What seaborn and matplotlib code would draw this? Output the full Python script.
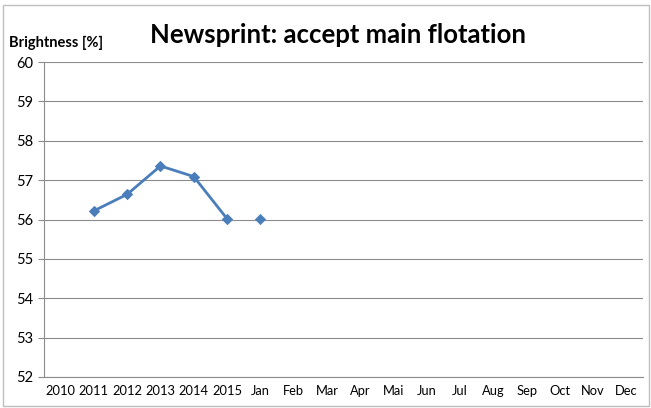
import numpy as np
import pandas as pd
import matplotlib
matplotlib.use("Agg")
import matplotlib.pyplot as plt
import seaborn as sns
from matplotlib.patches import Rectangle

# Data
categories = ["2010", "2011", "2012", "2013", "2014", "2015", "Jan", "Feb", "Mar", "Apr",
              "Mai", "Jun", "Jul", "Aug", "Sep", "Oct", "Nov", "Dec"]
year_labels = ["2011", "2012", "2013", "2014", "2015"]
year_values = [56.22, 56.64, 57.36, 57.09, 56.02]
month_labels = ["Jan"]
month_values = [56.02]

sns.set_style("white")
plt.rcParams["font.family"] = ["Lato", "DejaVu Sans"]
plt.rcParams["text.color"] = "black"
plt.rcParams["xtick.color"] = "black"
plt.rcParams["ytick.color"] = "black"

pos = {c: i for i, c in enumerate(categories)}
years_df = pd.DataFrame({"x": [pos[c] for c in year_labels], "y": year_values})
months_df = pd.DataFrame({"x": [pos[c] for c in month_labels], "y": month_values})

fig = plt.figure(figsize=(6.51, 4.08), dpi=100)
ax = fig.add_axes([44 / 651, 1 - 377 / 408, 599 / 651, 315 / 408])

line_color = "#4A7EBB"
sns.lineplot(data=years_df, x="x", y="y", ax=ax, color=line_color, linewidth=2,
             marker="D", markersize=5, markeredgecolor=line_color)
sns.scatterplot(data=months_df, x="x", y="y", ax=ax, color=line_color, marker="D",
                s=28, edgecolor=line_color)

ax.set_xlim(-0.5, len(categories) - 0.5)
ax.set_ylim(52, 60)
ax.set_yticks(range(52, 61))
ax.yaxis.grid(True, color="#8c8c8c", linewidth=0.8)
ax.set_axisbelow(True)
ax.set_xticks(range(len(categories)))
ax.set_xticklabels(categories, fontsize=9.3)
ax.set_xticks(np.arange(-0.5, len(categories), 1), minor=True)
ax.tick_params(axis="x", which="major", length=0, pad=6, colors="black")
ax.tick_params(axis="x", which="minor", length=4, color="#8c8c8c", width=0.8)
ax.tick_params(axis="y", length=4, color="#8c8c8c", width=0.8, labelsize=10.5, pad=4,
               left=True, labelcolor="black")
ax.set_xlabel("")
ax.set_ylabel("")
for s in ["top", "right"]:
    ax.spines[s].set_visible(False)
for s in ["left", "bottom"]:
    ax.spines[s].set_color("#8c8c8c")
    ax.spines[s].set_linewidth(0.8)

fig.text(338 / 651, 1 - 35 / 408, "Newsprint: accept main flotation", ha="center", va="center",
         fontsize=18.5, fontweight="bold")
fig.text(9 / 651, 1 - 43 / 408, "Brightness [%]", ha="left", va="center",
         fontsize=10.5, fontweight="bold")

# outer chart frame
fig.patches.append(Rectangle((3 / 651, 2 / 408), 646 / 651, 401 / 408, transform=fig.transFigure,
                             fill=False, edgecolor="#bfbfbf", linewidth=1))

fig.savefig("out.png", dpi=100)
